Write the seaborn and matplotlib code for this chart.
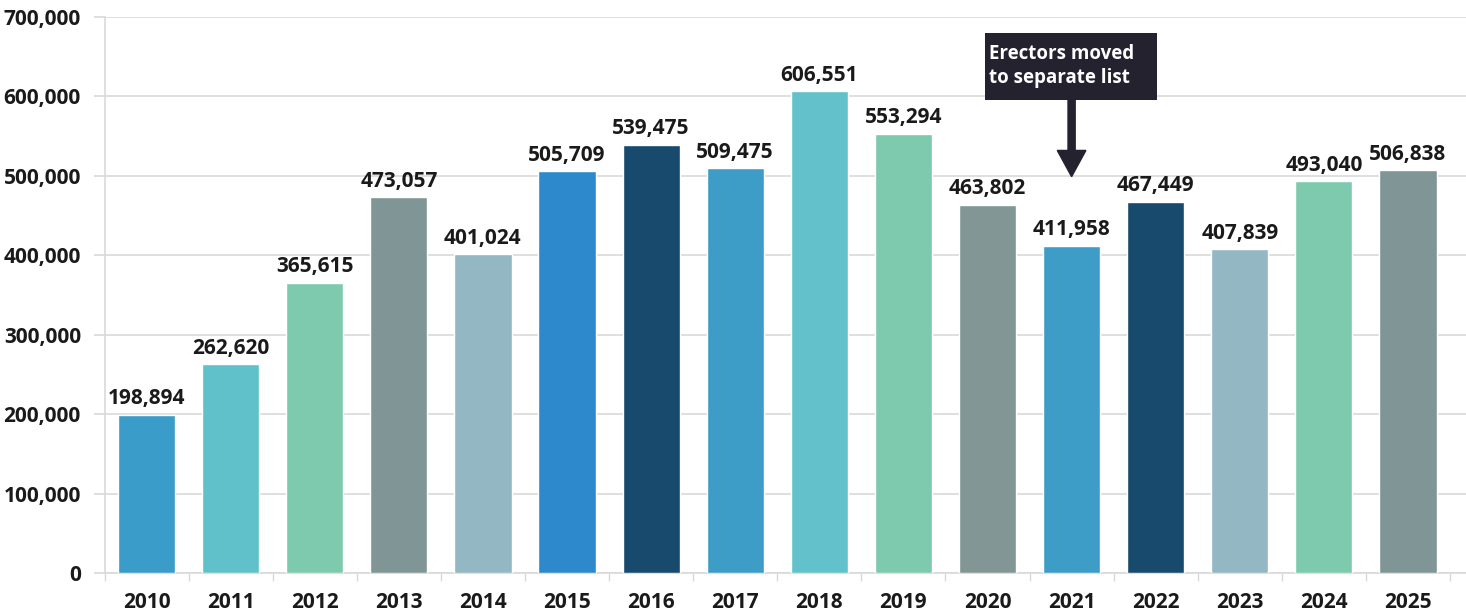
import matplotlib
matplotlib.use("Agg")
import matplotlib.pyplot as plt
import seaborn as sns
import pandas as pd
from matplotlib.patches import Rectangle, FancyArrow
from matplotlib.ticker import FuncFormatter, MultipleLocator, FixedLocator

years = ["2010", "2011", "2012", "2013", "2014", "2015", "2016", "2017",
         "2018", "2019", "2020", "2021", "2022", "2023", "2024", "2025"]
values = [198894, 262620, 365615, 473057, 401024, 505709, 539475, 509475,
          606551, 553294, 463802, 411958, 467449, 407839, 493040, 506838]
bar_colors = ["#3a9cc8", "#61c1cb", "#7ecaaf", "#809596", "#93b8c3", "#2e89cc",
              "#174a6c", "#3d9dc7", "#62c1cb", "#7ecaaf", "#829696", "#3d9dc7",
              "#174a6c", "#93b8c3", "#7ecaaf", "#809596"]
note_text = "Erectors moved\nto separate list"
note_year = "2021"

sns.set_theme(style="white")
plt.rcParams["font.family"] = ["Open Sans", "DejaVu Sans"]
plt.rcParams["font.weight"] = "bold"

df = pd.DataFrame({"year": years, "count": values})

fig = plt.figure(figsize=(14.66, 6.13), dpi=100)
ax = fig.add_axes([104.5 / 1466, 40 / 613, (1466 - 104.5) / 1466, 556 / 613])

sns.barplot(data=df, x="year", y="count", hue="year", palette=bar_colors,
            legend=False, width=0.68, saturation=1, ax=ax, zorder=3)

for cont in ax.containers:
    ax.bar_label(cont, labels=[f"{v:,.0f}" for v in cont.datavalues],
                 padding=4, fontsize=15, fontweight="bold", color="#1a1a1a")

ax.set_ylim(0, 700000)
ax.set_xlim(-0.5, 15.69)
ax.yaxis.set_major_locator(MultipleLocator(100000))
ax.yaxis.set_major_formatter(FuncFormatter(lambda v, p: f"{v:,.0f}"))
ax.grid(axis="y", color="#d9d9d9", linewidth=1.2, zorder=0)
ax.set_axisbelow(True)

ax.set_xlabel("")
ax.set_ylabel("")
for side in ["top", "right"]:
    ax.spines[side].set_visible(False)
for side in ["left", "bottom"]:
    ax.spines[side].set_color("#d9d9d9")
    ax.spines[side].set_linewidth(1.2)

ax.tick_params(axis="y", which="major", left=True, length=8, width=1.2,
               color="#d9d9d9", pad=9, labelsize=15, labelcolor="#1a1a1a")
ax.tick_params(axis="x", which="major", bottom=False, pad=8, labelsize=15,
               labelcolor="#1a1a1a")
ax.xaxis.set_minor_locator(FixedLocator([i + 0.5 for i in range(-1, len(years))]))
ax.tick_params(axis="x", which="minor", bottom=True, length=6, width=1,
               color="#d9d9d9")
for lab in ax.get_xticklabels() + ax.get_yticklabels():
    lab.set_fontweight("bold")

# Callout box with arrow pointing down at the 2021 bar
xi = years.index(note_year)
ax.add_patch(Rectangle((xi - 1.03, 596000), 2.05, 84000, facecolor="#25222f",
                       edgecolor="none", zorder=5, clip_on=False))
ax.text(xi - 0.98, 638000, note_text, color="white", fontsize=13.5,
        fontweight="bold", va="center", ha="left", linespacing=1.25, zorder=6)
ax.add_patch(FancyArrow(xi, 596000, 0, -97000, width=0.085, head_width=0.34,
                        head_length=33000, length_includes_head=True,
                        color="#25222f", zorder=5))

fig.savefig("out.png", dpi=100)
